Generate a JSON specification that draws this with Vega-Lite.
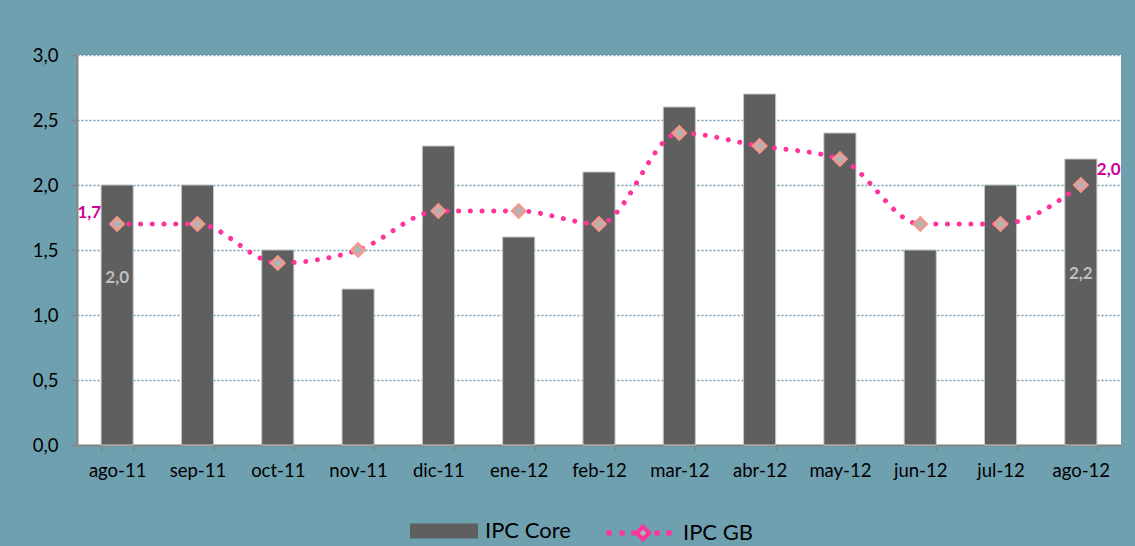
{
  "$schema": "https://vega.github.io/schema/vega-lite/v6.json",
  "width": 1044,
  "height": 390,
  "autosize": "none",
  "padding": {"left": 77, "top": 55, "right": 14, "bottom": 101},
  "background": "#6fa0b0",
  "config": {
    "locale": {"number": {"decimal": ",", "thousands": ".", "grouping": [3], "currency": ["", " €"]}},
    "view": {"fill": "#ffffff", "stroke": null},
    "font": "Lato",
    "axis": {
      "domainColor": "#868686",
      "domainWidth": 2,
      "tickColor": "#868686",
      "tickWidth": 1.5,
      "tickSize": 6,
      "labelColor": "#000000",
      "labelFontSize": 18.5,
      "title": null
    },
    "legend": {
      "orient": "none",
      "title": null,
      "labelFontSize": 22,
      "labelColor": "#000000",
      "symbolSize": 900,
      "labelOffset": 26,
      "symbolOpacity": 1
    }
  },
  "data": {
    "values": [
      {"mes": "ago-11", "core": 2.0, "gb": 1.7},
      {"mes": "sep-11", "core": 2.0, "gb": 1.7},
      {"mes": "oct-11", "core": 1.5, "gb": 1.4},
      {"mes": "nov-11", "core": 1.2, "gb": 1.5},
      {"mes": "dic-11", "core": 2.3, "gb": 1.8},
      {"mes": "ene-12", "core": 1.6, "gb": 1.8},
      {"mes": "feb-12", "core": 2.1, "gb": 1.7},
      {"mes": "mar-12", "core": 2.6, "gb": 2.4},
      {"mes": "abr-12", "core": 2.7, "gb": 2.3},
      {"mes": "may-12", "core": 2.4, "gb": 2.2},
      {"mes": "jun-12", "core": 1.5, "gb": 1.7},
      {"mes": "jul-12", "core": 2.0, "gb": 1.7},
      {"mes": "ago-12", "core": 2.2, "gb": 2.0}
    ]
  },
  "encoding": {
    "x": {
      "field": "mes",
      "type": "ordinal",
      "sort": null,
      "scale": {"paddingInner": 0.6, "paddingOuter": 0.3},
      "axis": {"labelAngle": 0, "tickBand": "extent", "labelPadding": 10, "grid": false}
    }
  },
  "layer": [
    {
      "mark": {"type": "bar", "stroke": "#c8c8c8", "strokeWidth": 1},
      "encoding": {
        "y": {
          "field": "core",
          "type": "quantitative",
          "scale": {"domain": [0, 3]},
          "axis": {
            "values": [0, 0.5, 1, 1.5, 2, 2.5, 3],
            "format": ".1f",
            "labelPadding": 13,
            "grid": true,
            "gridColor": "#6d9db3",
            "gridDash": [2, 2],
            "gridWidth": 1.5
          }
        },
        "fill": {
          "datum": "IPC Core",
          "scale": {"range": ["#5f5f5f"]},
          "legend": {
            "legendX": 352,
            "legendY": 461,
            "symbolType": "M-2.267,-0.5H2.267V0.5H-2.267Z",
            "symbolStrokeWidth": 0,
            "symbolStrokeColor": "#5f5f5f"
          }
        }
      }
    },
    {
      "mark": {
        "type": "line",
        "interpolate": "monotone",
        "strokeWidth": 5,
        "strokeDash": [0.01, 11.7],
        "strokeCap": "round"
      },
      "encoding": {
        "y": {"field": "gb", "type": "quantitative"},
        "stroke": {
          "datum": "IPC GB",
          "scale": {"range": ["#ff3399"]},
          "legend": {
            "legendX": 546,
            "legendY": 461,
            "symbolType": "M-2.1,-0.04h0.08v0.08h-0.08ZM-1.233,-0.04h0.08v0.08h-0.08ZM-0.433,-0.04h0.08v0.08h-0.08ZM1.1,-0.04h0.08v0.08h-0.08ZM1.9,-0.04h0.08v0.08h-0.08ZM0.2,-0.42L0.62,0L0.2,0.42L-0.22,0Z",
            "symbolFillColor": "#b3b3b3",
            "symbolStrokeWidth": 4,
            "symbolDash": [1, 0]
          }
        }
      }
    },
    {
      "mark": {"type": "point", "shape": "diamond", "size": 170, "filled": true, "fill": "#b3b3b3", "stroke": "#f4978c", "strokeWidth": 2.5, "opacity": 1},
      "encoding": {
        "y": {"field": "gb", "type": "quantitative"}
      }
    },
    {
      "transform": [{"filter": "datum.mes === 'ago-11'"}],
      "layer": [
        {
          "mark": {"type": "text", "align": "right", "baseline": "middle", "dx": -16, "dy": -11, "fontSize": 17, "fontWeight": "bold", "color": "#cc0099"},
          "encoding": {
            "y": {"field": "gb", "type": "quantitative"},
            "text": {"field": "gb", "type": "quantitative", "format": ".1f"}
          }
        },
        {
          "mark": {"type": "text", "align": "center", "baseline": "middle", "dy": 93, "fontSize": 17, "fontWeight": "bold", "color": "#bfbfbf"},
          "encoding": {
            "y": {"field": "core", "type": "quantitative"},
            "text": {"field": "core", "type": "quantitative", "format": ".1f"}
          }
        }
      ]
    },
    {
      "transform": [{"filter": "datum.mes === 'ago-12'"}],
      "layer": [
        {
          "mark": {"type": "text", "align": "left", "baseline": "middle", "dx": 16, "dy": -15, "fontSize": 17, "fontWeight": "bold", "color": "#cc0099"},
          "encoding": {
            "y": {"field": "gb", "type": "quantitative"},
            "text": {"field": "gb", "type": "quantitative", "format": ".1f"}
          }
        },
        {
          "mark": {"type": "text", "align": "center", "baseline": "middle", "dy": 115, "fontSize": 17, "fontWeight": "bold", "color": "#bfbfbf"},
          "encoding": {
            "y": {"field": "core", "type": "quantitative"},
            "text": {"field": "core", "type": "quantitative", "format": ".1f"}
          }
        }
      ]
    }
  ]
}
